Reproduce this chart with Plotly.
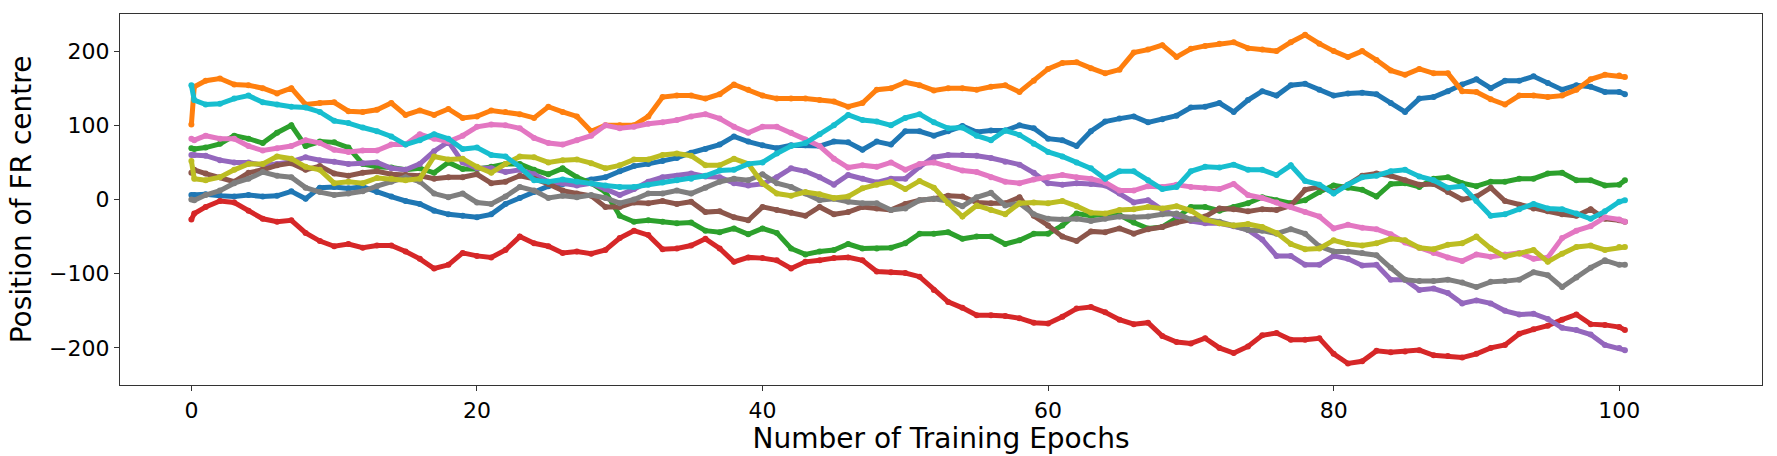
import plotly.graph_objects as go

# ==========================================
# DATA (one value per epoch)
# first point is the starting position, the walk begins just after it
# ==========================================
EPOCHS = [0, 0.2] + list(range(1, 101)) + [100.4]

BLUE = [6, 6,
        7, 5, 4, 6, 4, 5, 11, 1, 16, 17, 15, 17, 10, 4, -2, -6, -15, -20, -22,
        -24, -20, -6, 2, 10, 18, 21, 23, 27, 30, 38, 45, 48, 52, 56, 63, 68, 74, 85, 78,
        73, 69, 73, 73, 72, 78, 77, 67, 78, 74, 92, 92, 86, 92, 99, 91, 93, 93, 100, 96,
        82, 80, 72, 92, 105, 109, 112, 104, 108, 113, 124, 125, 130, 118, 134, 146, 140, 154, 156, 148,
        140, 143, 144, 142, 130, 118, 136, 138, 146, 155, 162, 150, 160, 160, 166, 157, 148, 154, 152, 145, 145,
        142]
ORANGE = [101, 152,
          160, 163, 155, 154, 150, 143, 150, 128, 130, 131, 119, 118, 121, 130, 114, 120, 114, 122, 110,
          112, 120, 118, 115, 110, 125, 118, 112, 92, 100, 100, 100, 112, 138, 140, 140, 136, 142, 155, 148,
          140, 136, 136, 136, 134, 132, 125, 130, 148, 150, 158, 154, 147, 150, 150, 148, 152, 154, 145, 160,
          176, 184, 185, 177, 170, 175, 198, 202, 208, 192, 203, 207, 210, 212, 204, 202, 200, 212, 222, 210,
          200, 192, 200, 188, 174, 168, 176, 170, 170, 146, 145, 135, 128, 140, 140, 138, 140, 148, 162, 168, 167,
          165]
GREEN = [69, 68,
         70, 75, 86, 82, 76, 90, 100, 72, 78, 77, 70, 48, 44, 43, 40, 42, 36, 50, 41,
         41, 44, 48, 48, 40, 34, 42, 30, 22, 10, -22, -30, -28, -30, -32, -31, -42, -44, -39, -47,
         -39, -45, -66, -74, -70, -68, -60, -66, -66, -65, -59, -46, -46, -44, -53, -50, -50, -60, -55, -46,
         -46, -35, -19, -22, -20, -21, -31, -39, -37, -25, -10, -10, -15, -10, -5, 3, -1, -5, -1, 10,
         19, 16, 13, 4, 21, 22, 17, 28, 30, 22, 18, 24, 24, 28, 28, 35, 36, 26, 26, 19, 20,
         26]
RED = [-27, -19,
       -10, -2, -4, -15, -26, -30, -28, -45, -56, -63, -60, -65, -62, -62, -70, -80, -93, -88, -72,
       -76, -78, -68, -50, -59, -63, -72, -70, -73, -68, -52, -42, -48, -67, -66, -62, -53, -66, -84, -78,
       -79, -82, -93, -84, -82, -79, -78, -82, -97, -98, -99, -104, -122, -138, -146, -156, -156, -157, -160, -166,
       -167, -158, -147, -145, -152, -162, -168, -166, -184, -192, -194, -187, -200, -207, -198, -183, -180, -189, -189, -187,
       -208, -221, -218, -204, -206, -205, -203, -210, -211, -213, -208, -200, -196, -181, -175, -170, -162, -155, -168, -169, -172,
       -176]
PURPLE = [60, 60,
          59, 53, 50, 50, 46, 48, 51, 57, 53, 51, 48, 49, 50, 42, 40, 48, 65, 78, 50,
          42, 42, 37, 40, 34, 24, 22, 19, 22, 14, 6, 14, 24, 30, 32, 35, 31, 30, 22, 19,
          21, 30, 42, 38, 30, 20, 33, 28, 23, 28, 28, 44, 57, 60, 60, 59, 56, 51, 47, 36,
          22, 20, 22, 21, 19, 8, -4, -1, -14, -22, -29, -32, -32, -36, -41, -54, -76, -76, -88, -88,
          -76, -80, -89, -88, -108, -108, -122, -120, -126, -140, -136, -140, -150, -155, -154, -161, -173, -176, -182, -196, -200,
          -203]
BROWN = [36, 40,
         35, 30, 24, 36, 40, 46, 49, 40, 45, 35, 32, 36, 38, 34, 33, 32, 28, 30, 30,
         34, 22, 24, 32, 28, 21, 12, 8, 5, -10, -10, -4, -5, -2, -6, -3, -17, -16, -24, -28,
         -10, -14, -18, -22, -10, -20, -17, -10, -12, -14, -6, -1, 1, 5, 4, -4, -5, -5, 3, -22,
         -35, -50, -56, -43, -44, -39, -46, -40, -37, -31, -27, -23, -12, -13, -16, -13, -14, -8, 13, 17,
         10, 20, 32, 35, 32, 26, 20, 21, 10, 0, 4, 16, -2, -7, -12, -16, -20, -22, -13, -26, -28,
         -30]
PINK = [82, 80,
        86, 82, 82, 72, 66, 69, 72, 80, 76, 67, 64, 66, 66, 74, 74, 88, 82, 78, 86,
        98, 101, 100, 96, 83, 76, 74, 80, 86, 100, 96, 98, 102, 104, 107, 112, 115, 109, 98, 90,
        98, 98, 90, 81, 72, 55, 43, 46, 44, 50, 40, 48, 50, 45, 39, 37, 30, 24, 22, 27,
        30, 33, 30, 28, 23, 12, 12, 18, 17, 20, 17, 15, 14, 21, 6, 2, -4, -10, -17, -23,
        -39, -34, -38, -40, -47, -58, -65, -72, -78, -83, -74, -77, -74, -72, -80, -78, -52, -42, -36, -24, -27,
        -30]
GRAY = [0, -1,
        6, 12, 22, 28, 37, 32, 30, 16, 10, 6, 8, 11, 18, 24, 30, 24, 8, 3, 8,
        -4, -6, 4, 17, 12, 2, 5, 3, 6, 2, -5, 0, 8, 8, 12, 8, 16, 24, 28, 26,
        34, 22, 17, 8, -1, 1, -3, -5, -5, -14, -12, -1, 1, -2, -9, 3, 9, -8, -5, -20,
        -26, -27, -26, -29, -26, -23, -24, -23, -20, -19, -27, -27, -30, -35, -41, -42, -46, -40, -46, -63,
        -70, -70, -72, -75, -92, -108, -110, -110, -108, -112, -118, -111, -110, -108, -98, -102, -118, -105, -92, -82, -88,
        -88]
OLIVE = [52, 28,
         26, 30, 40, 48, 48, 58, 55, 44, 40, 22, 24, 22, 29, 28, 26, 28, 58, 54, 55,
         44, 36, 48, 58, 57, 50, 53, 54, 49, 42, 46, 54, 54, 60, 62, 59, 46, 46, 55, 48,
         22, 8, 5, 10, 7, 2, 4, 15, 20, 24, 14, 25, 16, -5, -23, -8, -14, -20, -5, -4,
         -5, -2, -9, -18, -19, -14, -13, -10, -12, -9, -15, -27, -32, -35, -33, -37, -45, -60, -67, -66,
         -55, -60, -62, -59, -53, -55, -65, -67, -61, -59, -50, -66, -77, -73, -68, -84, -73, -64, -62, -68, -64,
         -64]
CYAN = [154, 134,
        128, 129, 136, 140, 131, 128, 125, 124, 118, 106, 103, 97, 92, 85, 74, 80, 88, 82, 68,
        70, 60, 58, 44, 26, 24, 27, 24, 22, 19, 17, 17, 20, 23, 26, 28, 32, 39, 40, 48,
        50, 62, 72, 76, 88, 100, 114, 107, 105, 100, 110, 115, 104, 96, 97, 86, 80, 93, 87, 75,
        64, 58, 50, 42, 28, 38, 38, 26, 14, 17, 38, 44, 43, 47, 40, 40, 33, 46, 25, 20,
        8, 20, 30, 32, 38, 40, 31, 26, 16, 18, -2, -22, -20, -13, -6, -12, -13, -19, -26, -16, -3,
        -1]

SERIES = [BLUE, ORANGE, GREEN, RED, PURPLE, BROWN, PINK, GRAY, OLIVE, CYAN]
COLORS = ["#1f77b4", "#ff7f0e", "#2ca02c", "#d62728", "#9467bd",
          "#8c564b", "#e377c2", "#7f7f7f", "#bcbd22", "#17becf"]

X_TICKS = [0, 20, 40, 60, 80, 100]
Y_TICKS = [-200, -100, 0, 100, 200]
Y_TICK_TEXT = ["\u2212200", "\u2212100", "0", "100", "200"]

# ==========================================
# FIGURE
# ==========================================
fig = go.Figure()
for vals, col in zip(SERIES, COLORS):
    fig.add_trace(go.Scatter(x=EPOCHS, y=vals, mode="lines+markers",
                             line=dict(color=col, width=5),
                             marker=dict(color=col, size=6),
                             showlegend=False))

axis_style = dict(showline=True, mirror=True, linecolor="#333333", linewidth=1.2,
                  ticks="outside", ticklen=5, tickwidth=1.2, tickcolor="#333333",
                  showgrid=False, zeroline=False, automargin=False,
                  tickfont=dict(family="DejaVu Sans", size=22, color="#000000"))

fig.update_xaxes(range=[-5, 110], tickvals=X_TICKS, **axis_style,
                 title=dict(text="Number of Training Epochs", standoff=0,
                            font=dict(family="DejaVu Sans", size=28, color="#000000")))
fig.update_yaxes(range=[-250, 250], tickvals=Y_TICKS, ticktext=Y_TICK_TEXT, **axis_style,
                 title=dict(text="Position of FR centre", standoff=9,
                            font=dict(family="DejaVu Sans", size=28, color="#000000")))

fig.update_layout(width=1777, height=456,
                  margin=dict(l=120, r=15, t=14, b=71),
                  plot_bgcolor="white", paper_bgcolor="white")

# page body has a default margin; drop it so the figure sits at the window corner
fig.write_html("out.html", config={"displayModeBar": False},
               post_script="document.body.style.margin='0px';")
